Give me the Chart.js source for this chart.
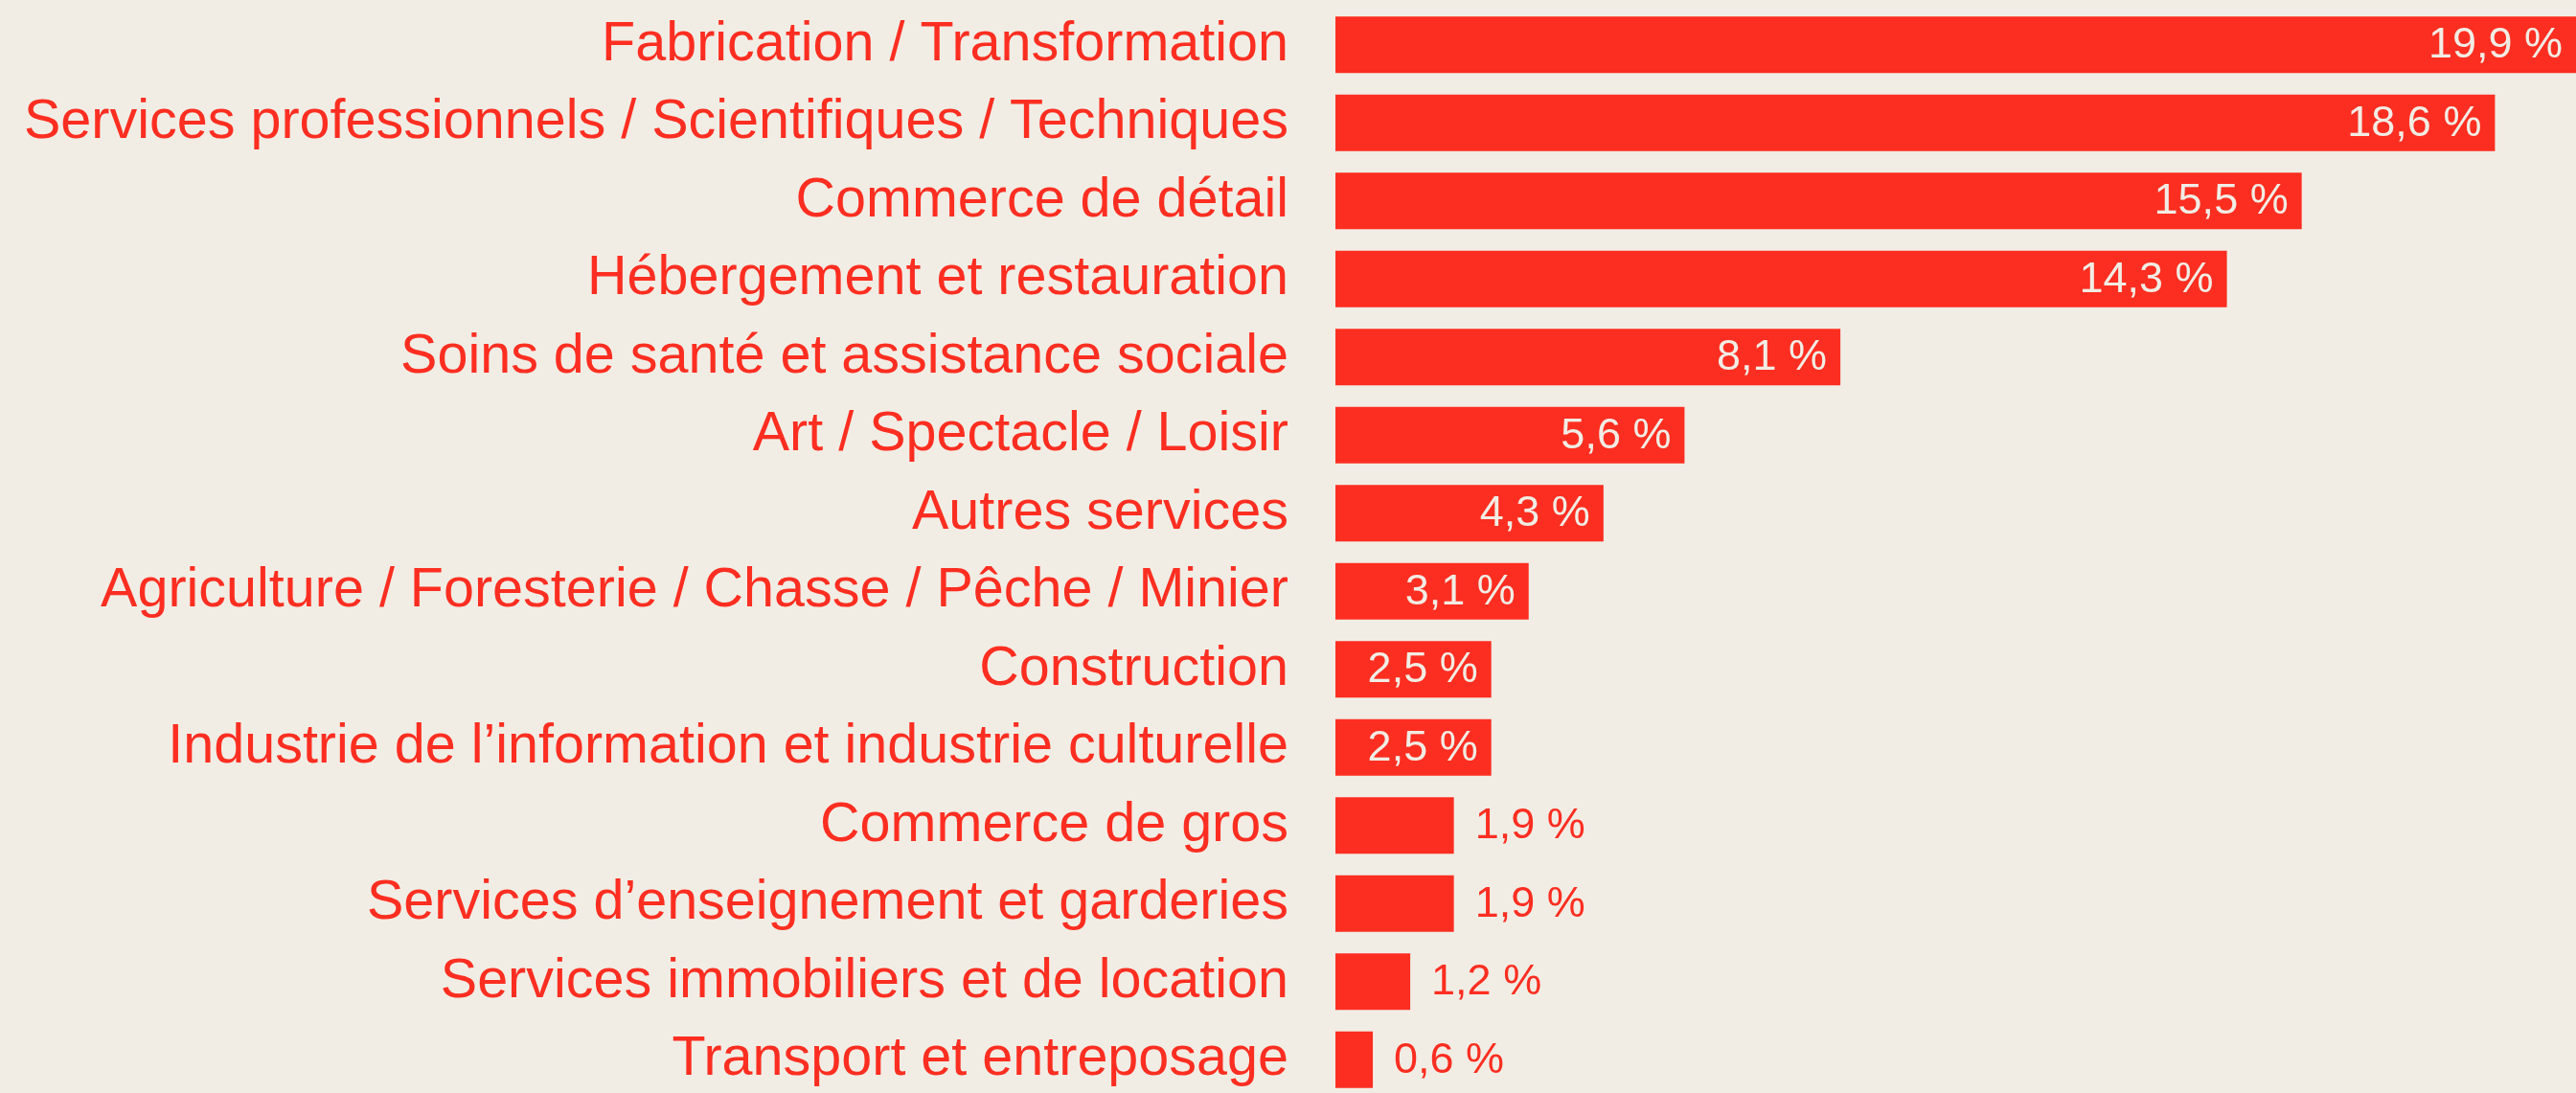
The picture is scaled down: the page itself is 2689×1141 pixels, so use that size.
<!DOCTYPE html>
<html lang="fr">
<head>
<meta charset="utf-8">
<title>Répartition par secteur</title>
<script src="https://cdn.jsdelivr.net/npm/chart.js@4.4.1/dist/chart.umd.min.js"></script>
<style>
    html, body {
        margin: 0;
        padding: 0;
        background: #f1ede5;
        overflow: hidden;
    }
    #boite {
        position: relative;
        width: 2689px;
        height: 1147px;
    }
</style>
</head>
<body>
<div id="boite">
    <canvas id="graficoSecteurs"></canvas>
</div>
<script>
// secteurs et parts (%)
const secteurs = [
    'Fabrication / Transformation',
    'Services professionnels / Scientifiques / Techniques',
    'Commerce de détail',
    'Hébergement et restauration',
    'Soins de santé et assistance sociale',
    'Art / Spectacle / Loisir',
    'Autres services',
    'Agriculture / Foresterie / Chasse / Pêche / Minier',
    'Construction',
    'Industrie de l’information et industrie culturelle',
    'Commerce de gros',
    'Services d’enseignement et garderies',
    'Services immobiliers et de location',
    'Transport et entreposage'
];
const parts = [19.9, 18.6, 15.5, 14.3, 8.1, 5.6, 4.3, 3.1, 2.5, 2.5, 1.9, 1.9, 1.2, 0.6];

const rouge = 'rgb(252, 46, 33)';
const fond = '#f1ede5';
const police = '"Liberation Sans", Arial, Helvetica, sans-serif';

function formaterPct(v) {
    return v.toFixed(1).replace('.', ',') + ' %';
}

// étiquettes de valeur : dans la barre si elle est assez longue, sinon à côté
const etiquettesValeurs = {
    id: 'etiquettesValeurs',
    afterDatasetsDraw(chart) {
        const ctx = chart.ctx;
        const meta = chart.getDatasetMeta(0);
        ctx.save();
        ctx.font = '45px ' + police;
        ctx.textBaseline = 'middle';
        meta.data.forEach((barre, i) => {
            const v = parts[i];
            if (v >= 2.5) {
                ctx.fillStyle = fond;
                ctx.textAlign = 'right';
                ctx.fillText(formaterPct(v), barre.x - 14, barre.y + 1);
            } else {
                ctx.fillStyle = rouge;
                ctx.textAlign = 'left';
                ctx.fillText(formaterPct(v), barre.x + 22, barre.y + 1);
            }
        });
        ctx.restore();
    }
};

new Chart(document.getElementById('graficoSecteurs'), {
    type: 'bar',
    data: {
        labels: secteurs,
        datasets: [{
            data: parts,
            backgroundColor: rouge,
            borderWidth: 0,
            categoryPercentage: 1,
            barPercentage: 0.724
        }]
    },
    options: {
        indexAxis: 'y',
        responsive: true,
        maintainAspectRatio: false,
        animation: false,
        layout: {
            padding: { top: 6, right: 0, bottom: 0, left: 0 }
        },
        scales: {
            x: {
                display: false,
                min: 0,
                max: 19.9
            },
            y: {
                grid: { display: false, drawTicks: false },
                border: { display: false },
                afterFit: (s) => {
                    s.width = 1394; // début des barres
                    s.paddingTop = 0; // sinon le padding des ticks s'ajoute en haut et en bas
                    s.paddingBottom = 0;
                },
                ticks: {
                    autoSkip: false,
                    padding: 49,
                    color: rouge,
                    font: { family: police, size: 57.5 }
                }
            }
        },
        plugins: {
            legend: { display: false },
            tooltip: { enabled: false }
        }
    },
    plugins: [etiquettesValeurs]
});
</script>
</body>
</html>
